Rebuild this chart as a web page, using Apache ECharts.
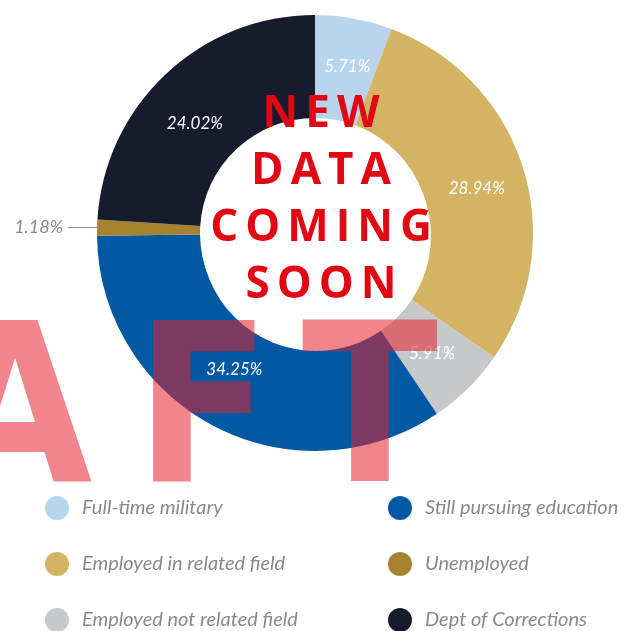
<!DOCTYPE html>
<html>
<head>
<meta charset="utf-8">
<style>
  html, body { margin: 0; padding: 0; background: #fff; }
  #chart { width: 625px; height: 631px; }
</style>
<script src="https://cdn.jsdelivr.net/npm/echarts@6/dist/echarts.min.js"></script>
</head>
<body>
<div id="chart"></div>
<script>
// outcome categories, clockwise from 12 o'clock
const categories = [
  "Full-time military",
  "Employed in related field",
  "Employed not related field",
  "Still pursuing education",
  "Unemployed",
  "Dept of Corrections",
];
const percents = [5.71, 28.94, 5.91, 34.25, 1.18, 24.02];
const colors = ["#b9d5ee", "#d4b462", "#c6c8ca", "#0159a3", "#a8832f", "#161b2e"];

const legendLeft = [categories[0], categories[1], categories[2]];
const legendRight = [categories[3], categories[4], categories[5]];

const bannerLines = ["NEW", "DATA", "COMING", "SOON"];
const watermarkLetters = ["D", "R", "A", "F", "T"];

const CX = 315;
const CY = 233;

const measureCtx = document.createElement("canvas").getContext("2d");

// letter-spaced line of text, built one glyph at a time
function trackedLine(text, cx, cy, size, tracking) {
  const font = 'bold ' + size + 'px "Open Sans"';
  measureCtx.font = font;
  const chars = [...text];
  const widths = chars.map((ch) => measureCtx.measureText(ch).width);
  const total = widths.reduce((a, b) => a + b, 0) + tracking * (chars.length - 1);
  let x = cx - total / 2;
  return chars.map((ch, i) => {
    const el = {
      type: "text",
      x: x,
      y: cy,
      z: 50,
      silent: true,
      style: {
        text: ch,
        font: font,
        fill: "#e30613",
        textVerticalAlign: "middle",
      },
    };
    x += widths[i] + tracking;
    return el;
  });
}

const bannerEls = [];
bannerLines.forEach((line, i) => {
  bannerEls.push(...trackedLine(line, 321, 114 + i * 57, 44, 7));
});

// big translucent watermark; only A F T fall inside the frame
const watermarkCenters = [-255, -120, 15, 203, 370];
const watermarkEls = watermarkLetters.map((ch, i) => ({
  type: "text",
  x: watermarkCenters[i],
  y: 534,
  z: 100,
  silent: true,
  style: {
    text: ch,
    font: 'bold 222px "DejaVu Sans Condensed"',
    fill: "rgba(230,30,40,0.54)",
    textAlign: "center",
    textVerticalAlign: "bottom",
  },
}));

// small nudges so the inside labels sit where the original put them
const labelOffsets = [[2, 0], [0, 6], [-2, 0], [-2, -14], [0, 0], [-4, 14]];

const pieData = categories.map((name, i) => ({
  name: name,
  value: percents[i],
  itemStyle: { color: colors[i] },
  label: { offset: labelOffsets[i] },
}));
// the thin slice gets its label outside with a leader line
pieData[4].label = {
  position: "outside",
  color: "#8a8a8c",
  fontSize: 18,
  fontStyle: "italic",
};
pieData[4].labelLine = { show: true, length: 3, length2: 26, lineStyle: { color: "#8a8a8c", width: 1 } };

const legendCommon = {
  orient: "vertical",
  icon: "circle",
  itemWidth: 24,
  itemHeight: 24,
  itemGap: 32,
  height: 200,
  selectedMode: false,
  z: 120,
  textStyle: {
    color: "#8a8a8c",
    fontSize: 20,
    fontStyle: "italic",
    fontFamily: "Lato",
    padding: [0, 0, 0, 8],
  },
};

const chart = echarts.init(document.getElementById("chart"));
chart.setOption({
  animation: false,
  legend: [
    Object.assign({}, legendCommon, { left: 40, top: 491, data: legendLeft }),
    Object.assign({}, legendCommon, { left: 383, top: 491, data: legendRight }),
  ],
  series: [
    {
      type: "pie",
      center: [CX, CY],
      radius: [115, 218],
      startAngle: 90,
      clockwise: true,
      avoidLabelOverlap: false,
      silent: true,
      label: {
        show: true,
        position: "inside",
        formatter: (p) => p.value.toFixed(2) + "%",
        color: "#ffffff",
        fontSize: 17,
        fontStyle: "italic",
        fontFamily: "Lato",
      },
      labelLine: { show: false },
      data: pieData,
    },
  ],
  graphic: [
    {
      type: "circle",
      shape: { cx: CX + 1, cy: CY + 3, r: 115 },
      z: 10,
      silent: true,
      style: { fill: "#ffffff" },
    },
    ...bannerEls,
    ...watermarkEls,
  ],
});
</script>
</body>
</html>
